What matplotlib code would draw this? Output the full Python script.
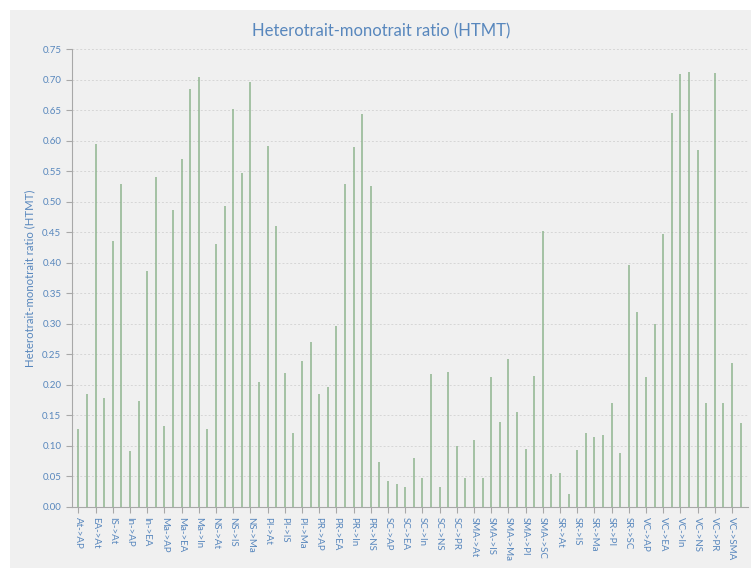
import matplotlib.pyplot as plt
from matplotlib.patches import Rectangle

plt.rcParams['font.family'] = ['Lato', 'DejaVu Sans']

# Construct pairs in the order they are reported
pairs = [
    'At->AP',
    'EA->AP', 'EA->At',
    'IS->AP', 'IS->At', 'IS->EA',
    'In->AP', 'In->At', 'In->EA', 'In->IS',
    'Ma->AP', 'Ma->At', 'Ma->EA', 'Ma->IS', 'Ma->In',
    'NS->AP', 'NS->At', 'NS->EA', 'NS->IS', 'NS->In', 'NS->Ma',
    'PI->AP', 'PI->At', 'PI->EA', 'PI->IS', 'PI->In', 'PI->Ma', 'PI->NS',
    'PR->AP', 'PR->At', 'PR->EA', 'PR->IS', 'PR->In', 'PR->Ma', 'PR->NS', 'PR->PI',
    'SC->AP', 'SC->At', 'SC->EA', 'SC->IS', 'SC->In', 'SC->Ma', 'SC->NS', 'SC->PI', 'SC->PR',
    'SMA->AP', 'SMA->At', 'SMA->EA', 'SMA->IS', 'SMA->In', 'SMA->Ma', 'SMA->NS', 'SMA->PI',
    'SMA->PR', 'SMA->SC',
    'SR->AP', 'SR->At', 'SR->EA', 'SR->IS', 'SR->In', 'SR->Ma', 'SR->NS', 'SR->PI', 'SR->PR',
    'SR->SC', 'SR->SMA',
    'VC->AP', 'VC->At', 'VC->EA', 'VC->IS', 'VC->In', 'VC->Ma', 'VC->NS', 'VC->PI', 'VC->PR',
    'VC->SC', 'VC->SMA', 'VC->SR',
]

htmt = [
    0.127,
    0.185, 0.595,
    0.178, 0.436, 0.530,
    0.091, 0.173, 0.386, 0.541,
    0.133, 0.487, 0.570, 0.685, 0.704,
    0.128, 0.431, 0.493, 0.652, 0.548, 0.697,
    0.205, 0.592, 0.461, 0.219, 0.121, 0.240, 0.270,
    0.185, 0.196, 0.296, 0.530, 0.590, 0.644, 0.526, 0.073,
    0.043, 0.037, 0.033, 0.081, 0.047, 0.218, 0.032, 0.222, 0.100,
    0.047, 0.109, 0.047, 0.213, 0.140, 0.242, 0.155, 0.095, 0.215, 0.453,
    0.054, 0.056, 0.021, 0.093, 0.121, 0.114, 0.118, 0.171, 0.089, 0.396, 0.319,
    0.213, 0.300, 0.448, 0.645, 0.709, 0.713, 0.585, 0.170, 0.711, 0.171, 0.236, 0.137,
]

yticks = [i * 0.05 for i in range(16)]

text_blue = '#5887bd'
bar_green = '#8fb48f'
axis_grey = '#a8a8a8'

fig = plt.figure(figsize=(7.51, 5.68), dpi=100, facecolor='white')
# light grey panel behind everything
fig.patches.append(Rectangle((10 / 751, 0), 1, 1 - 10 / 568, transform=fig.transFigure,
                             facecolor='#f0f0f0', edgecolor='none', zorder=-10))

ax = fig.add_axes([71.7 / 751, 1 - 507 / 568, 676.3 / 751, 457.7 / 568])
ax.set_facecolor('none')
ax.set_zorder(2)

x = list(range(len(pairs)))
ax.vlines(x, 0, htmt, colors=bar_green, linewidth=1.1, zorder=3)

ax.set_xlim(-0.77, 77.87)
ax.set_ylim(0, 0.75)
ax.set_yticks(yticks)
ax.set_yticklabels([f'{v:.2f}' for v in yticks])
ax.set_xticks(x[::2])
ax.set_xticklabels(pairs[::2], rotation=270, ha='center', va='top')

ax.tick_params(axis='both', colors=axis_grey, labelcolor=text_blue, labelsize=7,
               length=4, width=0.8)

ax.grid(axis='y', color='#d6d6d6', linestyle=(0, (2, 2)), linewidth=0.7, zorder=1)
for side in ['top', 'right']:
    ax.spines[side].set_visible(False)
for side in ['left', 'bottom']:
    ax.spines[side].set_color(axis_grey)
    ax.spines[side].set_linewidth(0.8)

ax.set_ylabel('Heterotrait-monotrait ratio (HTMT)', color=text_blue, fontsize=8.2, labelpad=5)
fig.text(381 / 751, 1 - 31 / 568, 'Heterotrait-monotrait ratio (HTMT)', color=text_blue,
         fontsize=12, ha='center', va='center')

fig.savefig('out.png', dpi=100, facecolor=fig.get_facecolor())
